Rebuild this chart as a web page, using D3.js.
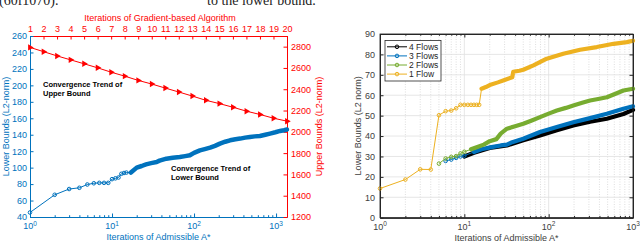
<!DOCTYPE html>
<html>
<head>
<meta charset="utf-8">
<script src="https://cdn.jsdelivr.net/npm/d3@7"></script>
<style>
    body { margin: 0; background: #fff; }
    svg { display: block; font-family: "Liberation Sans", Arial, sans-serif; }
</style>
</head>
<body>
<svg id="chart" width="640" height="242"></svg>
<script>
// ---------- left chart data ----------
const lbIter = [1, 2, 3, 4, 5, 6, 7, 8, 9, 10, 11, 12, 13, 14, 15, 17, 20, 23, 26, 30,
    35, 38, 46, 55, 67, 78, 89, 100, 118, 135, 157, 180, 207, 240, 275, 320, 365, 420, 480, 550,
    635, 740, 845, 980, 1120, 1250, 1360];
const lbVal = [45.5, 67, 74, 75.5, 79.5, 81, 81.5, 81.5, 81.5, 86, 87, 88, 92.5, 93.5, 94, 94, 100, 102, 104, 105.5,
    106.8, 108.5, 110.9, 112, 112.9, 114, 115, 118, 121, 122.5, 124.3, 126.5, 129.2, 131.5, 133.2, 134.5, 135.3, 136.5, 137.3, 138,
    138.5, 140, 141.4, 143, 144.6, 145.5, 146.3];

const ubIter = [1, 2, 3, 4, 5, 6, 7, 8, 9, 10, 11, 12, 13, 14, 15, 16, 17, 18, 19, 20];
const ubVal = [2793, 2753, 2713, 2676, 2639, 2601, 2560, 2523, 2483, 2449,
    2411, 2374, 2336, 2296, 2265, 2231, 2194, 2163, 2128, 2100];

const lowTicks = [40, 60, 80, 100, 120, 140, 160, 180, 200, 220, 240, 260];
const upTicks = [1200, 1400, 1600, 1800, 2000, 2200, 2400, 2600, 2800];
const gradTicks = [1, 2, 3, 4, 5, 6, 7, 8, 9, 10, 11, 12, 13, 14, 15, 16, 17, 18, 19, 20];
const decadeTicksL = [1, 10, 100, 1000];

// ---------- right chart data ----------
const flowNames = ['4 Flows', '3 Flows', '2 Flows', '1 Flow'];
const f4Iter = [10, 13, 20, 32, 50, 79, 125, 196, 310, 490, 770, 1000];
const f4Val = [30, 31.8, 34.2, 35.4, 37.9, 40.3, 42.8, 45.2, 47, 48.5, 50.8, 52.8];
const f3Iter = [6, 7, 8, 9, 10, 13, 16, 21, 27, 32, 37, 50, 79, 125, 196, 310, 490, 770, 1000];
const f3Val = [27.8, 28.5, 29.3, 30, 30.4, 32.2, 33.5, 34.6, 35.4, 35.8, 37, 38.7, 42, 44.4, 46.8, 48.8, 50.9, 53.4, 54.6];
const f2Iter = [5, 6, 7, 8, 9, 10, 12, 14, 17, 20, 24, 27, 32, 40, 50, 62, 79, 100, 125, 160,
    196, 250, 310, 400, 490, 600, 770, 1000];
const f2Val = [26.5, 29, 29.8, 30.2, 31.5, 32.3, 33.5, 34.5, 35.8, 37.5, 38.5, 41.2, 43.6, 44.8, 46, 47.5, 49.3, 51, 52.5, 53.8,
    55, 56.3, 57.4, 58.3, 59, 60.5, 62.3, 63.2];
const f1Iter = [1, 2, 3, 4, 5, 6, 7, 8, 9, 10, 11, 12, 13, 14, 15, 16, 18, 20, 25, 30,
    37, 38, 45, 50, 66, 95, 149, 236, 372, 588, 845, 1000];
const f1Val = [14.3, 18.7, 23.7, 23.6, 50.2, 52.2, 52.5, 53.6, 55.3, 55.3, 55.3, 55.3, 55.3, 55.3, 55.3, 63.2, 64, 65, 66.3, 67.5,
    68.8, 71.5, 72, 72.5, 74.6, 77.9, 80.3, 82.3, 83.6, 85.2, 86, 86.7];
const flowTicksY = [0, 10, 20, 30, 40, 50, 60, 70, 80, 90];
const decadeTicksR = [1, 10, 100, 1000];

const svg = d3.select('#chart');
const blue = '#0072BD';
const red = '#FF0000';
const dark = '#262626';

const zip = (xs, ys) => xs.map((x, i) => [x, ys[i]]);

// superscript decade labels under a log axis
const decadeLabels = (g, scale, ticks, y, color) => {
    ticks.forEach(t => {
        const k = Math.round(Math.log10(t));
        const txt = g.append('text')
            .attr('x', scale(t))
            .attr('y', y)
            .attr('text-anchor', 'middle')
            .attr('fill', color)
            .style('font-size', '9px');
        txt.append('tspan').text('10');
        txt.append('tspan').attr('dy', -3.5).style('font-size', '6.5px').text(k);
    });
};

const styleAxis = (g, color) => {
    g.attr('font-size', null).attr('font-family', null);
    g.selectAll('line, path').attr('stroke', color);
    g.selectAll('text').attr('fill', color).style('font-size', '9px');
};

// cut-off paper text at the very top
svg.append('text').attr('x', -1).attr('y', 4.5)
    .style('font-family', '"Liberation Serif", serif').style('font-size', '14px')
    .attr('fill', '#222').text('(60f1070).');
svg.append('text').attr('x', 207).attr('y', 4.5)
    .style('font-family', '"Liberation Serif", serif').style('font-size', '14px')
    .attr('fill', '#222').text('to the lower bound.');

// ================= LEFT CHART =================
const L = {x0: 30, x1: 287, y0: 36, y1: 217};
const xA = d3.scaleLog().domain([1, 1360]).range([L.x0, L.x1]);
const xG = d3.scaleLinear().domain([1, 20]).range([L.x0, L.x1]);
const yLo = d3.scaleLinear().domain([40, 260]).range([L.y1, L.y0]);
const yUp = d3.scaleLinear().domain([1200, 2900]).range([L.y1, L.y0]);

const gl = svg.append('g');

// bottom axis: minor then major
gl.append('g').attr('transform', `translate(0,${L.y1})`)
    .call(d3.axisBottom(xA).tickValues(xA.ticks().filter(t => !decadeTicksL.includes(t)))
        .tickSizeInner(-1.8).tickSizeOuter(0).tickFormat(''))
    .call(g => styleAxis(g, blue));
gl.append('g').attr('transform', `translate(0,${L.y1})`)
    .call(d3.axisBottom(xA).tickValues(decadeTicksL).tickSizeInner(-3.5).tickSizeOuter(0).tickFormat(''))
    .call(g => styleAxis(g, blue));
decadeLabels(gl, xA, decadeTicksL, 229, blue);

gl.append('text')
    .attr('x', (L.x0 + L.x1) / 2).attr('y', 240)
    .attr('text-anchor', 'middle').attr('fill', blue)
    .style('font-size', '9px')
    .text('Iterations of Admissible A*');

// top axis
gl.append('g').attr('transform', `translate(0,${L.y0})`)
    .call(d3.axisTop(xG).tickValues(gradTicks).tickSizeInner(-3.5).tickSizeOuter(0).tickPadding(4.5))
    .call(g => styleAxis(g, red));
gl.append('text')
    .attr('x', 160).attr('y', 21)
    .attr('text-anchor', 'middle').attr('fill', red)
    .style('font-size', '9px')
    .text('Iterations of Gradient-based Algorithm');

// left axis
gl.append('g').attr('transform', `translate(${L.x0},0)`)
    .call(d3.axisLeft(yLo).tickValues(lowTicks).tickSizeInner(-3.5).tickSizeOuter(0).tickPadding(3))
    .call(g => styleAxis(g, blue));
gl.append('text')
    .attr('transform', `translate(9,${(L.y0 + L.y1) / 2}) rotate(-90)`)
    .attr('text-anchor', 'middle').attr('fill', blue)
    .style('font-size', '9px')
    .text('Lower Bounds (L2-norm)');

// right axis
gl.append('g').attr('transform', `translate(${L.x1},0)`)
    .call(d3.axisRight(yUp).tickValues(upTicks).tickFormat(d3.format('d'))
        .tickSizeInner(-3.5).tickSizeOuter(0).tickPadding(4))
    .call(g => styleAxis(g, red));
gl.append('text')
    .attr('transform', `translate(322,${(L.y0 + L.y1) / 2}) rotate(-90)`)
    .attr('text-anchor', 'middle').attr('fill', red)
    .style('font-size', '9px')
    .text('Upper Bounds (L2-norm)');

// lower bound series
const lbData = zip(lbIter, lbVal);
const lineLo = d3.line().x(d => xA(d[0])).y(d => yLo(d[1]));
gl.append('path').attr('d', lineLo(lbData))
    .attr('fill', 'none').attr('stroke', blue).attr('stroke-width', 1);
gl.append('path').attr('d', lineLo(lbData.filter(d => d[0] >= 17)))
    .attr('fill', 'none').attr('stroke', blue).attr('stroke-width', 4.5)
    .attr('stroke-linejoin', 'round').attr('stroke-linecap', 'round');
gl.selectAll('circle.lb')
    .data(lbData.filter(d => d[0] < 17))
    .enter().append('circle')
    .attr('class', 'lb')
    .attr('cx', d => xA(d[0])).attr('cy', d => yLo(d[1]))
    .attr('r', 1.8)
    .attr('fill', 'none').attr('stroke', blue).attr('stroke-width', 1);

// upper bound series
const ubData = zip(ubIter, ubVal);
const lineUp = d3.line().x(d => xG(d[0])).y(d => yUp(d[1]));
gl.append('path').attr('d', lineUp(ubData))
    .attr('fill', 'none').attr('stroke', red).attr('stroke-width', 1);
gl.selectAll('path.ub')
    .data(ubData)
    .enter().append('path')
    .attr('class', 'ub')
    .attr('d', d3.symbol(d3.symbolTriangle, 18))
    .attr('transform', d => `translate(${xG(d[0])},${yUp(d[1])}) rotate(90)`)
    .attr('fill', red);

// annotations
const note = (x, y, lines) => {
    lines.forEach((t, i) => {
        gl.append('text').attr('x', x).attr('y', y + i * 9)
            .attr('fill', '#000').style('font-size', '7.5px').style('font-weight', 'bold')
            .text(t);
    });
};
note(43, 86.5, ['Convergence Trend of', 'Upper Bound']);
note(171, 170.5, ['Convergence Trend of', 'Lower Bound']);

// ================= RIGHT CHART =================
const R = {x0: 380, x1: 633, y0: 34, y1: 217.7};
const xR = d3.scaleLog().domain([1, 1000]).range([R.x0, R.x1]);
const yR = d3.scaleLinear().domain([0, 90]).range([R.y1, R.y0]);
const gr = svg.append('g');

const minorR = xR.ticks().filter(t => !decadeTicksR.includes(t));

// grid
gr.selectAll('line.vminor').data(minorR).enter().append('line')
    .attr('x1', d => xR(d)).attr('x2', d => xR(d))
    .attr('y1', R.y0).attr('y2', R.y1)
    .attr('stroke', '#c8c8c8').attr('stroke-width', 0.6).attr('stroke-dasharray', '1,1.5');
gr.selectAll('line.vmajor').data(decadeTicksR).enter().append('line')
    .attr('x1', d => xR(d)).attr('x2', d => xR(d))
    .attr('y1', R.y0).attr('y2', R.y1)
    .attr('stroke', '#dfdfdf').attr('stroke-width', 0.8);
gr.selectAll('line.hgrid').data(flowTicksY).enter().append('line')
    .attr('x1', R.x0).attr('x2', R.x1)
    .attr('y1', d => yR(d)).attr('y2', d => yR(d))
    .attr('stroke', '#dfdfdf').attr('stroke-width', 0.8);

// axes
gr.append('g').attr('transform', `translate(0,${R.y1})`)
    .call(d3.axisBottom(xR).tickValues(minorR).tickSizeInner(-1.8).tickSizeOuter(0).tickFormat(''))
    .call(g => styleAxis(g, dark));
gr.append('g').attr('transform', `translate(0,${R.y1})`)
    .call(d3.axisBottom(xR).tickValues(decadeTicksR).tickSizeInner(-3.5).tickSizeOuter(0).tickFormat(''))
    .call(g => styleAxis(g, dark));
gr.append('g').attr('transform', `translate(0,${R.y0})`)
    .call(d3.axisTop(xR).tickValues(minorR).tickSizeInner(-1.8).tickSizeOuter(0).tickFormat(''))
    .call(g => styleAxis(g, dark));
gr.append('g').attr('transform', `translate(0,${R.y0})`)
    .call(d3.axisTop(xR).tickValues(decadeTicksR).tickSizeInner(-3.5).tickSizeOuter(0).tickFormat(''))
    .call(g => styleAxis(g, dark));
gr.append('g').attr('transform', `translate(${R.x0},0)`)
    .call(d3.axisLeft(yR).tickValues(flowTicksY).tickSizeInner(-3.5).tickSizeOuter(0).tickPadding(5))
    .call(g => styleAxis(g, dark));
gr.append('g').attr('transform', `translate(${R.x1},0)`)
    .call(d3.axisRight(yR).tickValues(flowTicksY).tickSizeInner(-3.5).tickSizeOuter(0).tickFormat(''))
    .call(g => styleAxis(g, dark));
gr.selectAll('g text').attr('fill', '#404040');
decadeLabels(gr, xR, decadeTicksR, 229.5, '#404040');

gr.append('text')
    .attr('x', (R.x0 + R.x1) / 2).attr('y', 240.5)
    .attr('text-anchor', 'middle').attr('fill', '#404040')
    .style('font-size', '9px')
    .text('Iterations of Admissible A*');
gr.append('text')
    .attr('transform', `translate(361,${(R.y0 + R.y1) / 2}) rotate(-90)`)
    .attr('text-anchor', 'middle').attr('fill', '#404040')
    .style('font-size', '9px')
    .text('Lower Bounds (L2 norm)');

// series
const flows = [
    {name: flowNames[0], data: zip(f4Iter, f4Val), color: '#000000', dense: 10},
    {name: flowNames[1], data: zip(f3Iter, f3Val), color: '#0072BD', dense: 12},
    {name: flowNames[2], data: zip(f2Iter, f2Val), color: '#77AC30', dense: 12},
    {name: flowNames[3], data: zip(f1Iter, f1Val), color: '#EDB120', dense: 16}
];
const lineR = d3.line().x(d => xR(d[0])).y(d => yR(d[1]));

flows.forEach(f => {
    gr.append('path').attr('d', lineR(f.data))
        .attr('fill', 'none').attr('stroke', f.color).attr('stroke-width', 1);
    gr.append('path').attr('d', lineR(f.data.filter(d => d[0] >= f.dense)))
        .attr('fill', 'none').attr('stroke', f.color).attr('stroke-width', 4.2)
        .attr('stroke-linejoin', 'round').attr('stroke-linecap', 'round');
    gr.selectAll(null)
        .data(f.data.filter(d => d[0] < f.dense))
        .enter().append('circle')
        .attr('cx', d => xR(d[0])).attr('cy', d => yR(d[1]))
        .attr('r', 1.8)
        .attr('fill', 'none').attr('stroke', f.color).attr('stroke-width', 1);
});

// frame on top
gr.append('rect')
    .attr('x', R.x0).attr('y', R.y0)
    .attr('width', R.x1 - R.x0).attr('height', R.y1 - R.y0)
    .attr('fill', 'none').attr('stroke', dark).attr('stroke-width', 0.8);

// legend
const leg = gr.append('g');
leg.append('rect')
    .attr('x', 385).attr('y', 40.5).attr('width', 56).attr('height', 40.5)
    .attr('fill', '#fff').attr('stroke', dark).attr('stroke-width', 0.8);
flows.forEach((f, i) => {
    const y = 46.8 + i * 9.1;
    leg.append('line').attr('x1', 387).attr('x2', 407).attr('y1', y).attr('y2', y)
        .attr('stroke', f.color).attr('stroke-width', 1);
    leg.append('circle').attr('cx', 397).attr('cy', y).attr('r', 1.8)
        .attr('fill', 'none').attr('stroke', f.color).attr('stroke-width', 1);
    leg.append('text').attr('x', 409).attr('y', y).attr('dy', '0.35em')
        .attr('fill', dark).style('font-size', '8.5px').text(f.name);
});
</script>
</body>
</html>
